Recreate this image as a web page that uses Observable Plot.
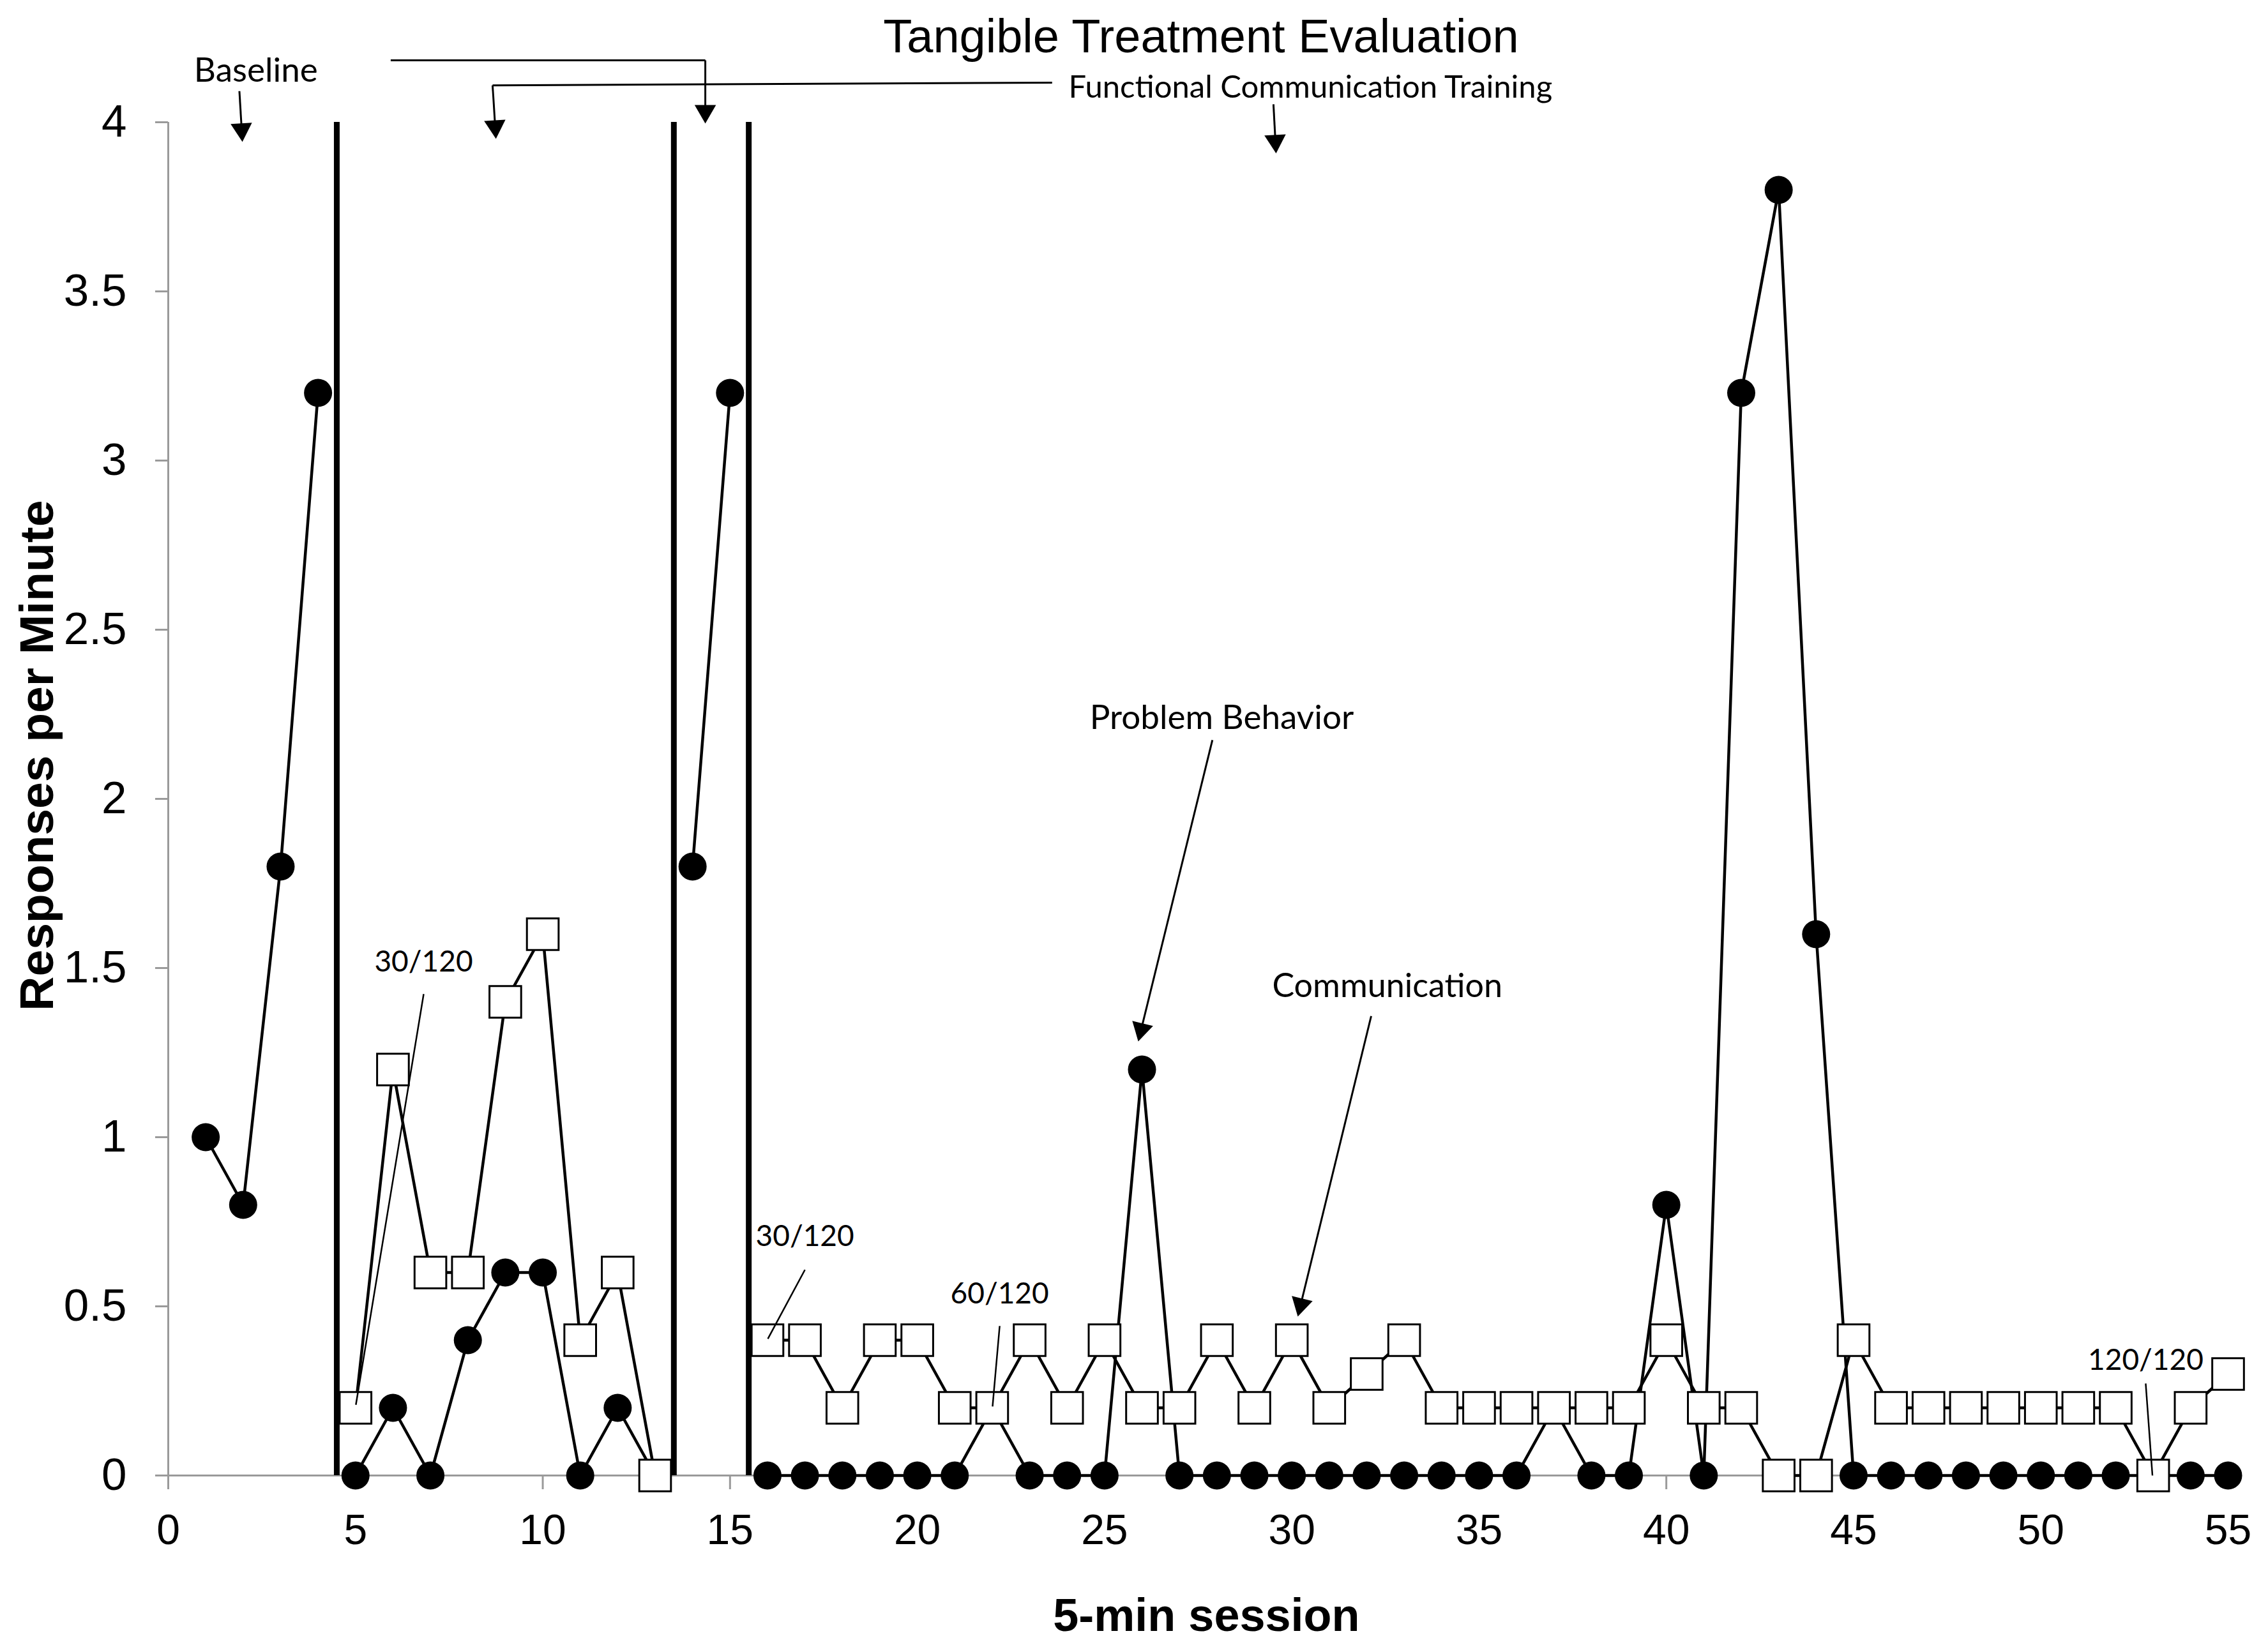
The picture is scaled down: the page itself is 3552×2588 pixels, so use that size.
<!DOCTYPE html>
<html>
<head>
<meta charset="utf-8">
<script src="https://cdn.jsdelivr.net/npm/d3@7"></script>
<script src="https://cdn.jsdelivr.net/npm/@observablehq/plot@0.6"></script>
<style>
  body { margin: 0; background: #fff; }
  #wrap { position: relative; width: 3552px; height: 2588px; background: #fff; overflow: hidden; }
  #title { position: absolute; left: 0; top: 20px; width: 3552px; box-sizing: border-box; padding-left: 210px;
           text-align: center; font: 74px/74px "Liberation Sans", Arial, sans-serif; color: #000; z-index: 2; white-space: nowrap; }
  #chart { position: absolute; left: 0; top: 86px; }
</style>
</head>
<body>
<div id="wrap">
  <div id="title">Tangible Treatment Evaluation</div>
  <div id="chart"></div>
</div>
<script>
// ---------------- data ----------------
const sessions = d3.range(1, 56);
const problemBehavior = [
  1.0, 0.8, 1.8, 3.2,                                  // 1-4 baseline
  0, 0.2, 0, 0.4, 0.6, 0.6, 0, 0.2, 0,                 // 5-13 FCT
  1.8, 3.2,                                            // 14-15 baseline
  0, 0, 0, 0, 0, 0, 0.2, 0, 0, 0,                      // 16-25
  1.2, 0, 0, 0, 0, 0, 0, 0, 0, 0,                      // 26-35
  0, 0.2, 0, 0, 0.8, 0, 3.2, 3.8, 1.6, 0,              // 36-45
  0, 0, 0, 0, 0, 0, 0, 0, 0, 0                         // 46-55
];
const communication = [
  null, null, null, null,
  0.2, 1.2, 0.6, 0.6, 1.4, 1.6, 0.4, 0.6, 0,
  null, null,
  0.4, 0.4, 0.2, 0.4, 0.4, 0.2, 0.2, 0.4, 0.2, 0.4,    // 16-25
  0.2, 0.2, 0.4, 0.2, 0.4, 0.2, 0.3, 0.4, 0.2, 0.2,    // 26-35
  0.2, 0.2, 0.2, 0.2, 0.4, 0.2, 0.2, 0, 0, 0.4,        // 36-45
  0.2, 0.2, 0.2, 0.2, 0.2, 0.2, 0.2, 0, 0.2, 0.3       // 46-55
];
const phaseChanges = [4.5, 13.5, 15.5];
const xTicks = [0, 5, 10, 15, 20, 25, 30, 35, 40, 45, 50, 55];
const yTicks = [0, 0.5, 1, 1.5, 2, 2.5, 3, 3.5, 4];
const xLabel = "5-min session";
const yLabel = "Responses per Minute";

// annotation texts (positions in data units: session, responses/min)
const noteText   = ["Baseline", "Functional Communication Training", "Problem Behavior", "Communication", "30/120", "30/120", "60/120", "120/120"];
const noteX      = [2.34, 24.04, 28.13, 32.55, 6.82, 17.0, 22.2, 52.8];
const noteY      = [4.119, 4.072, 2.2075, 1.415, 1.489, 0.679, 0.509, 0.313];
const noteAnchor = ["middle", "start", "middle", "middle", "middle", "middle", "middle", "middle"];
const noteSize   = [53, 49, 53, 52, 46, 46, 46, 46];

// arrows with heads
const arrowX1 = [1.90, 14.34, 8.66, 29.51, 27.88, 32.12];
const arrowY1 = [4.092, 4.183, 4.109, 4.053, 2.174, 1.358];
const arrowX2 = [1.98, 14.34, 8.75, 29.58, 25.90, 30.16];
const arrowY2 = [3.942, 3.996, 3.951, 3.908, 1.283, 0.470];

// bracket / leader lines without heads
const leaderX1 = [5.94, 8.66, 6.82, 17.0, 22.2, 52.8];
const leaderY1 = [4.183, 4.109, 1.423, 0.608, 0.442, 0.272];
const leaderX2 = [14.34, 23.6, 5.01, 16.01, 22.01, 52.98];
const leaderY2 = [4.183, 4.117, 0.209, 0.404, 0.204, 0.0];
const leaderW  = [3, 3, 2.5, 2.5, 2.5, 2.5];

// ---------------- layout ----------------
const W = 3552, H = 2502, ML = 263, MR = 63, MT = 105, MB = 277;
const kx = (W - ML - MR) / 55, ky = (H - MT - MB) / 4;
const HEAD_R = 16, HEAD_S = 1.2095 * HEAD_R;

const rows = sessions.map((s, i) => ({
  session: s,
  problem: problemBehavior[i],
  comm: communication[i],
  phase: d3.bisect(phaseChanges, s)
}));
const probRows = rows.filter(d => d.problem != null);
const commRows = rows.filter(d => d.comm != null);

const arrowIdx = d3.range(arrowX1.length);
const heads = arrowIdx.map(i => {
  const dxp = (arrowX2[i] - arrowX1[i]) * kx;
  const dyp = -(arrowY2[i] - arrowY1[i]) * ky;
  const len = Math.hypot(dxp, dyp), ux = dxp / len, uy = dyp / len;
  return {
    x: arrowX2[i] - HEAD_S * ux / kx,
    y: arrowY2[i] + HEAD_S * uy / ky,
    angle: Math.atan2(ux, -uy) * 180 / Math.PI
  };
});
const leaderIdx = d3.range(leaderX1.length);
const noteIdx = d3.range(noteText.length);

const font = "'Liberation Sans', Arial, Helvetica, sans-serif";
const noteFont = "Lato, 'Open Sans', sans-serif";

const chart = Plot.plot({
  width: W, height: H,
  marginTop: MT, marginBottom: MB, marginLeft: ML, marginRight: MR,
  x: {domain: [0, 55], axis: null},
  y: {domain: [0, 4], axis: null},
  style: {fontFamily: font, background: "transparent", overflow: "visible", color: "black"},
  marks: [
    // axes
    Plot.ruleY([0], {x1: 0, x2: 55, stroke: "#9a9a9a", strokeWidth: 3}),
    Plot.ruleX([0], {y1: 0, y2: 4, stroke: "#9a9a9a", strokeWidth: 3}),
    Plot.axisX(xTicks, {tickSize: 22, tickPadding: 39, stroke: "#9a9a9a", strokeWidth: 3, fill: "black",
      fontSize: 66, fontFamily: font, tickFormat: d => String(d), label: null}),
    Plot.axisY(yTicks, {tickSize: 20, tickPadding: 45, stroke: "#9a9a9a", strokeWidth: 3, fill: "black",
      fontSize: 71, fontFamily: font, tickFormat: d => String(d), label: null}),
    // axis titles
    Plot.text([xLabel], {x: 27.72, y: -0.4585, text: d => d, fontSize: 72, fontWeight: "bold",
      fontFamily: font, lineAnchor: "bottom", textAnchor: "middle", fill: "black"}),
    Plot.text([yLabel], {x: -3.069, y: 2.128, text: d => d, fontSize: 75, fontWeight: "bold",
      fontFamily: font, lineAnchor: "bottom", textAnchor: "middle", rotate: -90, fill: "black"}),
    // phase change lines
    Plot.ruleX(phaseChanges, {y1: 0, y2: 4, stroke: "black", strokeWidth: 9}),
    // data lines
    Plot.line(probRows, {x: "session", y: "problem", z: "phase", stroke: "black", strokeWidth: 4.5}),
    Plot.line(commRows, {x: "session", y: "comm", z: "phase", stroke: "black", strokeWidth: 4.5}),
    // markers
    Plot.dot(probRows, {x: "session", y: "problem", r: 22, fill: "black", stroke: "none"}),
    Plot.dot(commRows, {x: "session", y: "comm", r: 28, symbol: "square", fill: "white", stroke: "black", strokeWidth: 3}),
    // leaders and arrows
    Plot.link(leaderIdx, {x1: i => leaderX1[i], y1: i => leaderY1[i], x2: i => leaderX2[i], y2: i => leaderY2[i],
      stroke: "black", strokeWidth: i => leaderW[i]}),
    Plot.link(arrowIdx, {x1: i => arrowX1[i], y1: i => arrowY1[i], x2: i => heads[i].x, y2: i => heads[i].y,
      stroke: "black", strokeWidth: 3}),
    Plot.dot(arrowIdx, {x: i => heads[i].x, y: i => heads[i].y, rotate: i => heads[i].angle,
      symbol: "triangle2", r: HEAD_R, fill: "black", stroke: "none"}),
    // annotation texts
    ...noteIdx.map(i => Plot.text([noteText[i]], {x: noteX[i], y: noteY[i], text: d => d,
      fontSize: noteSize[i], fontFamily: noteFont, textAnchor: noteAnchor[i], lineAnchor: "bottom", fill: "black"}))
  ]
});
document.getElementById("chart").appendChild(chart);
</script>
</body>
</html>
